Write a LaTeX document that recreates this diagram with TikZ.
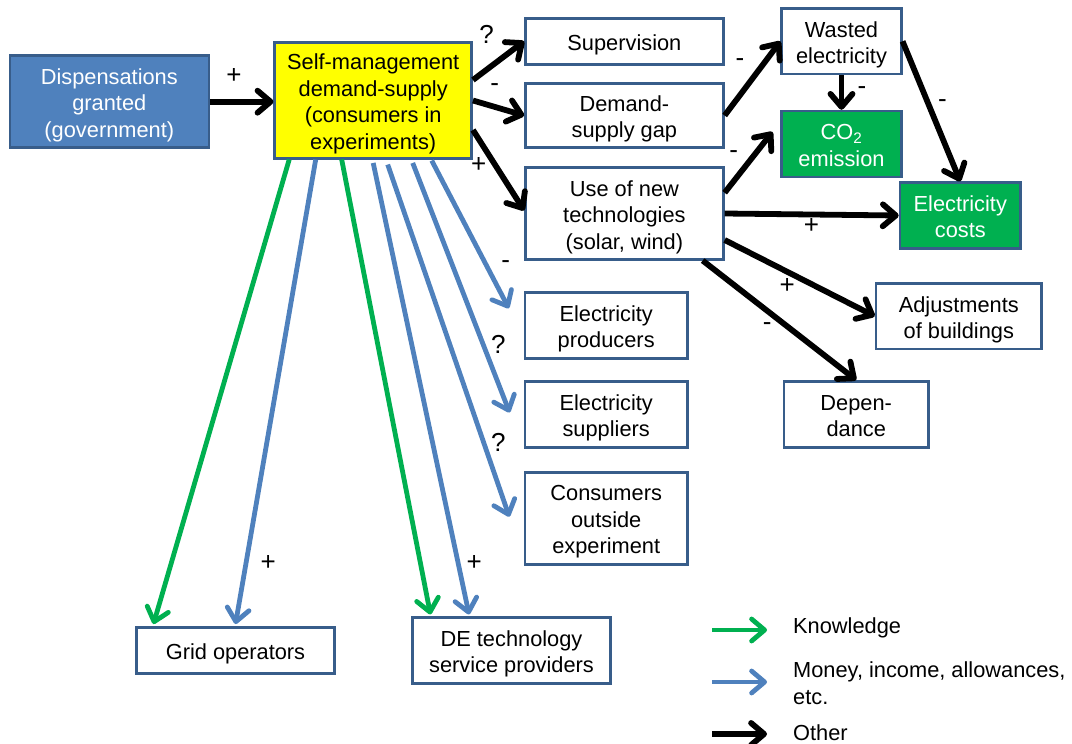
\documentclass[tikz,border=0pt]{standalone}
\usepackage{fontspec}
\setmainfont{Liberation Sans}
\usetikzlibrary{arrows.meta,calc}

\definecolor{boxline}{HTML}{385D8A}
\definecolor{ppblue}{HTML}{4F81BD}
\definecolor{ppgreen}{HTML}{00B050}
\definecolor{ppyellow}{HTML}{FFFF00}

% struts giving each text block the ascent and descent of the line box
\newcommand{\topstrut}{\rule{0pt}{1.05em}}
\newcommand{\botstrut}{\rule[-0.212em]{0pt}{0pt}}

\tikzset{
  x=1pt, y=-1pt,
  txt/.style={font=\fontsize{21.8pt}{26.5pt}\selectfont},
  box/.style={txt, draw=boxline, line width=2.5pt, fill=white, text=black,
    inner sep=0pt, align=center},
  bluebox/.style={box, fill=ppblue, text=white},
  greenbox/.style={box, fill=ppgreen, text=white},
  yellowbox/.style={box, fill=ppyellow},
  barb/.style={-{Straight Barb[length=13pt,width=22pt,round]}},
  other/.style={barb, draw=black, line width=5.8pt},
  money/.style={barb, draw=ppblue, line width=4.8pt},
  know/.style={barb, draw=ppgreen, line width=4.8pt},
  sign/.style={font=\fontsize{26pt}{30pt}\selectfont, inner sep=0pt,
    text height=0.72em, text depth=0pt},
  legendtxt/.style={txt, anchor=west, align=left, inner sep=0pt},
}

\begin{document}
\begin{tikzpicture}
\useasboundingbox (0,0) rectangle (1072,744);

% ---- boxes ----
\node[bluebox, minimum width=199pt, minimum height=92pt] (disp) at (109.3,101.7)
  {\topstrut Dispensations\\granted\\(government)\botstrut};
\node[yellowbox, minimum width=197pt, minimum height=115.6pt] (sm) at (373.2,100.5)
  {\topstrut Self-management\\demand-supply\\(consumers in\\experiments)\botstrut};
\node[box, minimum width=198pt, minimum height=46pt] (sup) at (624.4,41.3)
  {\topstrut Supervision\botstrut};
\node[box, minimum width=198pt, minimum height=64.4pt] (gap) at (624.4,115.5)
  {\topstrut Demand-\\supply gap\botstrut};
\node[box, minimum width=198pt, minimum height=91.6pt] (tech) at (624.4,213.5)
  {\topstrut Use of new\\technologies\\(solar, wind)\botstrut};
\node[box, minimum width=119.6pt, minimum height=65.5pt] (wasted) at (841.5,41.3)
  {\topstrut Wasted\\electricity\botstrut};
\node[greenbox, minimum width=119.6pt, minimum height=65.7pt] (co2) at (841.5,143.9)
  {\topstrut CO\textsubscript{2}\\emission\botstrut};
\node[greenbox, minimum width=120.7pt, minimum height=65.6pt] (cost) at (960.3,215.5)
  {\topstrut Electricity\\costs\botstrut};
\node[box, minimum width=165.7pt, minimum height=65.7pt] (adj) at (958.8,316.2)
  {\topstrut Adjustments\\of buildings\botstrut};
\node[box, minimum width=144.3pt, minimum height=66pt] (dep) at (856.2,414.3)
  {\topstrut Depen-\\dance\botstrut};
\node[box, minimum width=162.3pt, minimum height=66pt] (prod) at (606.2,325.3)
  {\topstrut Electricity\\producers\botstrut};
\node[box, minimum width=162.3pt, minimum height=65.6pt] (supl) at (606.2,414.5)
  {\topstrut Electricity\\suppliers\botstrut};
\node[box, minimum width=162.3pt, minimum height=92pt] (cons) at (606.2,518.3)
  {\topstrut Consumers\\outside\\experiment\botstrut};
\node[box, minimum width=197.6pt, minimum height=46pt] (grid) at (235.5,650.3)
  {\topstrut Grid operators\botstrut};
\node[box, minimum width=198.4pt, minimum height=65.6pt] (de) at (511.5,650.5)
  {\topstrut DE technology\\service providers\botstrut};

% ---- other influences ----
\draw[other] (disp.east) -- (disp.east -| sm.west);
\draw[other] ($(sm.east)+(0,-20.5)$) -- (sup.west);
\draw[other] (sm.east) -- (gap.west);
\draw[other] ($(sm.east)+(0,29.5)$) -- ($(tech.west)+(0,-3)$);
\draw[other] (gap.east) -- (wasted.west);
\draw[other] ($(tech.east)+(0,-20.8)$) -- ($(co2.west)+(-8,-12)$);
\draw[other] (tech.east) -- (cost.west);
\draw[other] (wasted.south) -- (co2.north);
\draw[other] (wasted.east) -- (cost.north);
\draw[other] ($(tech.east)+(0,26.5)$) -- (adj.west);
\draw[other] ($(tech.south east)+(-22,0)$) -- (dep.north);

% ---- knowledge and money flows ----
\draw[know]  ($(sm.south)+(-84,0)$)   -- ($(grid.north west)+(18,-2)$);
\draw[money] ($(sm.south)+(-57.5,0)$) -- ($(grid.north)+(0,-2)$);
\draw[know]  ($(sm.south)+(-31.5,0)$) -- ($(de.north west)+(19.4,-2)$);
\draw[money] ($(sm.south)+(0,3.4)$)   -- ($(de.north west)+(58,-2)$);
\draw[money] ($(sm.south)+(14.5,5)$)  -- ($(cons.west)+(-14.5,-1.6)$);
\draw[money] ($(sm.south)+(39.5,3.4)$) -- ($(supl.west)+(-14.2,-2)$);
\draw[money] ($(sm.south)+(58.5,1)$)  -- ($(prod.west)+(-15,-17)$);

% ---- signs ----
\node[sign] (s1)  at (234,80) {+};
\node[sign] (s2)  at (486.6,40) {?};
\node[sign] (s3)  at (494.8,87.7) {-};
\node[sign] (s4)  at (478.6,169.3) {+};
\node[sign] (s5)  at (740,63.3) {-};
\node[sign] (s6)  at (733.7,155) {-};
\node[sign] (s7)  at (811.5,230) {+};
\node[sign] (s8)  at (862,90.7) {-};
\node[sign] (s9)  at (942.5,104) {-};
\node[sign] (s10) at (787.3,290) {+};
\node[sign] (s11) at (767.3,327.3) {-};
\node[sign] (s12) at (505.7,265) {-};
\node[sign] (s13) at (498.3,350) {?};
\node[sign] (s14) at (498.3,448.3) {?};
\node[sign] (s15) at (268.3,566.7) {+};
\node[sign] (s16) at (474.3,566.7) {+};

% ---- legend ----
\coordinate (kA) at (712,630);   \coordinate (kB) at (767,630);
\coordinate (mA) at (712,682);   \coordinate (mB) at (767,682);
\coordinate (oA) at (712,734);   \coordinate (oB) at (767,734);
\draw[know]  (kA) -- (kB);
\draw[money] (mA) -- (mB);
\draw[other] (oA) -- (oB);
\node[legendtxt] (lk) at (793,628) {Knowledge};
\node[legendtxt] (lm) at (793,683.3) {Money, income, allowances,\\etc.};
\node[legendtxt] (lo) at (793,733) {Other};
\end{tikzpicture}
\end{document}
